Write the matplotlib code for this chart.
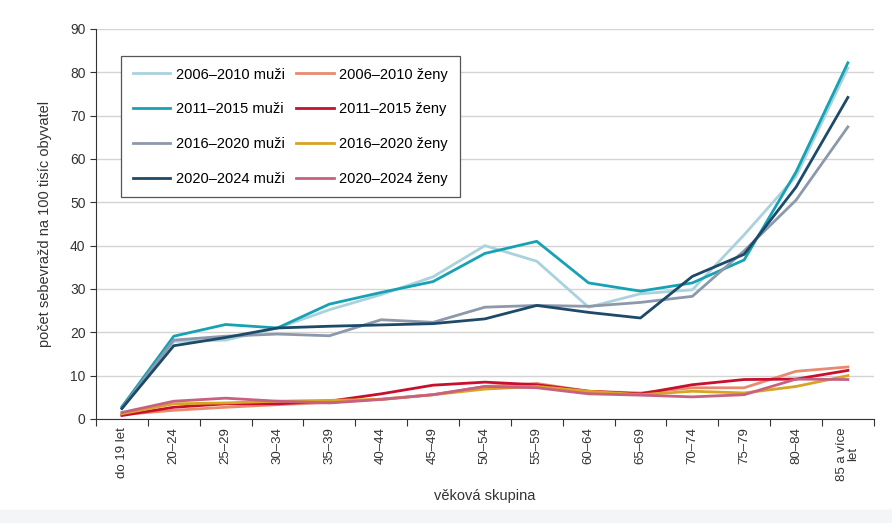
import matplotlib
matplotlib.use('Agg')
import matplotlib.pyplot as plt
from matplotlib.patches import Rectangle
import numpy as np

# age groups
kategorie = ['do 19 let', '20–24', '25–29', '30–34', '35–39', '40–44', '45–49',
             '50–54', '55–59', '60–64', '65–69', '70–74', '75–79', '80–84',
             '85 a více\nlet']

# men, per 100k
muzi_2006 = [2.8, 17.9, 18.2, 21.0, 25.2, 28.7, 32.8, 40.0, 36.4, 25.8, 28.9, 29.8, 42.5, 56.0, 81.0]
muzi_2011 = [2.8, 19.1, 21.8, 21.0, 26.5, 29.2, 31.7, 38.2, 41.0, 31.4, 29.5, 31.4, 36.7, 57.0, 82.2]
muzi_2016 = [2.5, 18.2, 19.1, 19.6, 19.2, 22.9, 22.3, 25.8, 26.2, 26.0, 26.9, 28.3, 38.8, 50.5, 67.4]
muzi_2020 = [2.4, 16.9, 18.8, 21.0, 21.4, 21.7, 22.0, 23.1, 26.2, 24.6, 23.3, 32.9, 38.0, 53.5, 74.2]

# women, per 100k
zeny_2006 = [1.0, 2.0, 2.7, 3.3, 3.8, 4.6, 5.6, 7.5, 8.2, 6.4, 6.0, 7.2, 7.2, 11.0, 12.0]
zeny_2011 = [0.8, 2.7, 3.5, 3.5, 4.1, 5.8, 7.8, 8.5, 7.9, 6.4, 5.8, 7.9, 9.1, 9.2, 11.2]
zeny_2016 = [1.2, 3.5, 3.7, 4.1, 4.3, 4.5, 5.6, 6.9, 7.5, 6.4, 5.6, 6.4, 6.0, 7.5, 10.0]
zeny_2020 = [1.5, 4.1, 4.8, 4.1, 3.7, 4.5, 5.6, 7.5, 7.2, 5.8, 5.5, 5.1, 5.6, 9.2, 9.1]

plt.rcParams['font.family'] = ['Liberation Sans', 'DejaVu Sans']

fig = plt.figure(figsize=(8.92, 5.23), dpi=100)
fig.patches.append(Rectangle((0, 0), 1, 0.025, transform=fig.transFigure,
                             color='#f4f5f6', zorder=0))
ax = fig.add_axes([0.1076, 0.1989, 0.872, 0.7457])

x = np.arange(len(kategorie))
serie = [
    (muzi_2006, '#a9d2de', '2006–2010 muži'),
    (muzi_2011, '#16a2b4', '2011–2015 muži'),
    (muzi_2016, '#8d98ab', '2016–2020 muži'),
    (muzi_2020, '#1c4a68', '2020–2024 muži'),
    (zeny_2006, '#e98a70', '2006–2010 ženy'),
    (zeny_2011, '#c8102e', '2011–2015 ženy'),
    (zeny_2016, '#d8a424', '2016–2020 ženy'),
    (zeny_2020, '#c8617f', '2020–2024 ženy'),
]
for vals, col, lab in serie:
    ax.plot(x, vals, color=col, lw=2, label=lab, solid_joinstyle='round')

ax.set_ylim(0, 90)
ax.set_yticks(range(0, 91, 10))
ax.set_xlim(-0.5, len(kategorie) - 0.5)
ax.set_xticks(np.arange(-0.5, len(kategorie), 1))
ax.set_xticklabels([])
ax.set_xticks(x, minor=True)
ax.set_xticklabels(kategorie, minor=True, rotation=90, fontsize=9.5,
                   color='#333333', va='top', linespacing=0.9)
ax.tick_params(axis='x', which='minor', length=0, pad=6)
ax.tick_params(axis='x', which='major', length=5, color='#333333')
ax.tick_params(axis='y', length=4, color='#333333', labelsize=10,
               labelcolor='#333333')

ax.grid(axis='y', color='#d4d4d4', lw=1)
ax.set_axisbelow(True)
for s in ['top', 'right']:
    ax.spines[s].set_visible(False)
for s in ['left', 'bottom']:
    ax.spines[s].set_color('#333333')

ax.set_ylabel('počet sebevražd na 100 tisíc obyvatel', fontsize=10.5,
              color='#333333', labelpad=13)
ax.set_xlabel('věková skupina', fontsize=10.5, color='#333333', labelpad=6)

leg = ax.legend(loc='upper left', bbox_to_anchor=(0.032, 0.931), ncol=2,
                fontsize=10.5, labelspacing=1.42, handlelength=2.6,
                handletextpad=0.35, columnspacing=0.8, borderpad=0.8,
                borderaxespad=0, fancybox=False, framealpha=1,
                edgecolor='#555555')
leg.get_frame().set_linewidth(0.9)

fig.savefig('out.png', dpi=100)
